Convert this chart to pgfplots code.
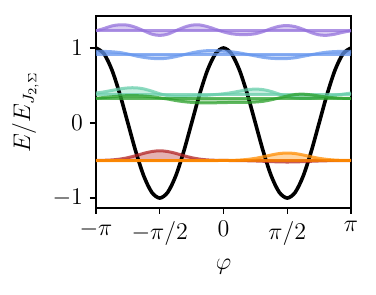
\documentclass[border=0pt]{standalone}
\usepackage{pgfplots}
\usepackage{pgfplotstable}
\pgfplotsset{compat=1.18}
\usepgfplotslibrary{fillbetween}
\definecolor{cred}{HTML}{B22222}
\definecolor{corange}{HTML}{FF8C00}
\definecolor{clgreen}{HTML}{66CDAA}
\definecolor{cdgreen}{HTML}{2CA02C}
\definecolor{cblue}{HTML}{6495ED}
\definecolor{cpurple}{HTML}{9370DB}
\pgfplotstableread{
x black red orange lgreen dgreen blue purple
-3.1416 1 -0.499 -0.500 0.400 0.330 0.955 1.230
-2.9452 0.9239 -0.497 -0.500 0.415 0.340 0.955 1.260
-2.7489 0.7071 -0.492 -0.500 0.435 0.350 0.950 1.295
-2.5525 0.3827 -0.481 -0.500 0.455 0.360 0.940 1.310
-2.3562 0 -0.462 -0.500 0.468 0.365 0.920 1.305
-2.1598 -0.3827 -0.435 -0.500 0.470 0.365 0.895 1.275
-1.9635 -0.7071 -0.404 -0.500 0.455 0.360 0.875 1.230
-1.7671 -0.9239 -0.380 -0.500 0.425 0.350 0.862 1.185
-1.5708 -1 -0.370 -0.500 0.390 0.335 0.858 1.168
-1.3744 -0.9239 -0.380 -0.500 0.365 0.320 0.865 1.185
-1.1781 -0.7071 -0.404 -0.500 0.355 0.300 0.885 1.230
-0.9817 -0.3827 -0.435 -0.500 0.355 0.285 0.910 1.275
-0.7854 0 -0.462 -0.500 0.360 0.275 0.935 1.305
-0.5890 0.3827 -0.481 -0.500 0.365 0.270 0.955 1.308
-0.3927 0.7071 -0.492 -0.500 0.370 0.268 0.965 1.285
-0.1963 0.9239 -0.497 -0.500 0.380 0.270 0.965 1.250
0 1 -0.499 -0.499 0.390 0.272 0.960 1.215
0.1963 0.9239 -0.500 -0.498 0.405 0.275 0.950 1.190
0.3927 0.7071 -0.501 -0.494 0.425 0.275 0.935 1.180
0.5890 0.3827 -0.503 -0.485 0.445 0.275 0.915 1.180
0.7854 0 -0.506 -0.471 0.452 0.280 0.895 1.190
0.9817 -0.3827 -0.510 -0.450 0.445 0.290 0.875 1.220
1.1781 -0.7071 -0.515 -0.426 0.420 0.310 0.863 1.260
1.3744 -0.9239 -0.518 -0.407 0.385 0.335 0.858 1.290
1.5708 -1 -0.520 -0.400 0.355 0.360 0.860 1.300
1.7671 -0.9239 -0.518 -0.407 0.335 0.380 0.870 1.285
1.9635 -0.7071 -0.515 -0.426 0.328 0.385 0.890 1.250
2.1598 -0.3827 -0.510 -0.450 0.330 0.375 0.910 1.205
2.3562 0 -0.506 -0.471 0.340 0.360 0.930 1.175
2.5525 0.3827 -0.503 -0.485 0.355 0.345 0.945 1.170
2.7489 0.7071 -0.501 -0.494 0.370 0.335 0.953 1.185
2.9452 0.9239 -0.500 -0.498 0.385 0.330 0.955 1.210
3.1416 1 -0.500 -0.499 0.400 0.330 0.955 1.230
}\datatable
\pgfplotstableread{
x red orange lgreen dgreen blue purple
-3.1416 -0.500 -0.500 0.380 0.330 0.920 1.230
3.1416 -0.500 -0.500 0.380 0.330 0.920 1.230
}\basetable
\begin{document}
\begin{tikzpicture}
\begin{axis}[
  scale only axis,
  width=127.5pt, height=96pt,
  xmin=-3.1416, xmax=3.1416,
  ymin=-1.133, ymax=1.427,
  xtick={-3.1416,-1.5708,0,1.5708,3.1416},
  xticklabels={$-\pi$,$-\pi/2$,$0$,$\pi/2$,$\pi$},
  ytick={-1,0,1},
  tick align=outside,
  xtick pos=bottom, ytick pos=left,
  major tick length=3pt,
  every tick/.style={black, line width=0.7pt},
  axis line style={line width=0.8pt},
  tick label style={font=\fontsize{11.5}{13}\selectfont},
  label style={font=\fontsize{11.5}{13}\selectfont},
  xlabel={$\varphi$},
  ylabel={$E/E_{J_{2,\Sigma}}$},
  every axis plot/.append style={smooth, tension=0.5},
]
\addplot[black, line width=1.8pt] table[x=x, y=black] {\datatable};
\foreach \s/\c in {red/cred, orange/corange, lgreen/clgreen, dgreen/cdgreen, blue/cblue, purple/cpurple}{
  \edef\tmp{
  \noexpand\addplot[name path=w\s, draw=\c, line width=1.5pt, opacity=0.75] table[x=x, y=\s] {\noexpand\datatable};
  \noexpand\addplot[name path=b\s, draw=\c, line width=1.5pt, opacity=0.75, sharp plot] table[x=x, y=\s] {\noexpand\basetable};
  \noexpand\addplot[fill=\c, fill opacity=0.35, draw=none] fill between[of=w\s\space and b\s];
  }
  \tmp
}
\end{axis}
\path ([shift={(-48pt,-43.5pt)}]current axis.south west) rectangle ([shift={(12.5pt,8pt)}]current axis.north east);
\end{tikzpicture}
\end{document}
